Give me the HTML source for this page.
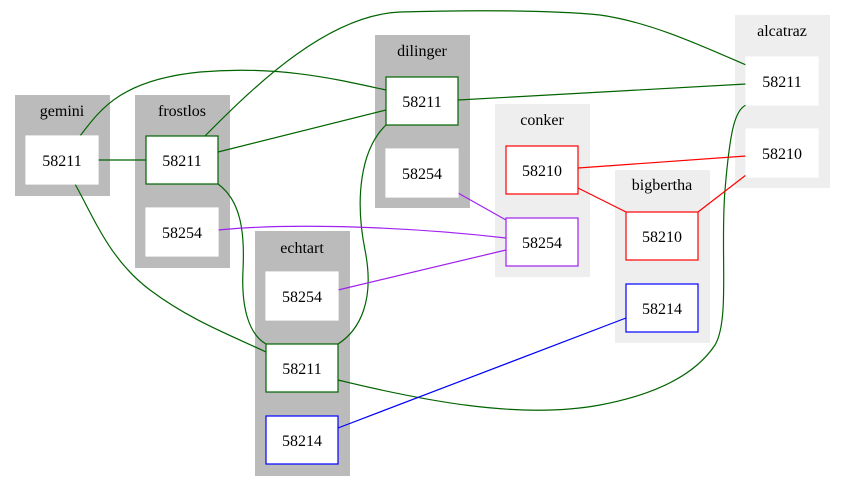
<!DOCTYPE html>
<html><head><meta charset="utf-8"><style>
html,body{margin:0;padding:0;background:#fff}
svg{display:block}
text{font-family:"Liberation Serif",serif;font-size:16px;text-anchor:middle;fill:#000}
</style></head><body>
<svg width="845" height="492" viewBox="0 0 845 492" xmlns="http://www.w3.org/2000/svg">
<g>
<rect x="15" y="95" width="95" height="101" fill="#bbb"/>
<rect x="135" y="95" width="95" height="173" fill="#bbb"/>
<rect x="375" y="35" width="95" height="173" fill="#bbb"/>
<rect x="255" y="231" width="95" height="245" fill="#bbb"/>
<rect x="495" y="104" width="95" height="173" fill="#eee"/>
<rect x="615" y="170" width="95" height="173" fill="#eee"/>
<rect x="735" y="15" width="95" height="173" fill="#eee"/>
<text x="62" y="116">gemini</text>
<text x="182" y="116">frostlos</text>
<text x="422" y="56">dilinger</text>
<text x="302" y="253">echtart</text>
<text x="542" y="125">conker</text>
<text x="662" y="190">bigbertha</text>
<text x="782" y="36">alcatraz</text>
</g>
<g fill="none" stroke-width="1.2">
<path d="M98,160 L146,160" stroke="#006400"/>
<path d="M80,136 C100,110 120,80 200,72 C280,65 340,80 386,90" stroke="#006400"/>
<path d="M75,184 C95,220 110,260 150,290 C190,320 230,335 266,352" stroke="#006400"/>
<path d="M218,152 L386,110" stroke="#006400"/>
<path d="M205,136 C260,80 330,15 400,12 C470,10 550,10 600,15 C650,22 700,45 746,65" stroke="#006400"/>
<path d="M218,184 C240,200 245,230 243,270 C241,310 250,335 266,344" stroke="#006400"/>
<path d="M458,100 L746,84" stroke="#006400"/>
<path d="M386,125 C360,150 355,200 365,250 C375,300 360,330 338,344" stroke="#006400"/>
<path d="M338,380 C420,400 520,420 600,405 C680,390 705,360 715,345 C730,320 720,250 725,190 C730,130 735,110 746,105" stroke="#006400"/>
<path d="M578,168 L746,156" stroke="#f00"/>
<path d="M578,188 L626,212" stroke="#f00"/>
<path d="M698,212 L746,175" stroke="#f00"/>
<path d="M218,230 C300,222 420,228 506,238" stroke="#a020f0"/>
<path d="M458,193 L506,220" stroke="#a020f0"/>
<path d="M338,290 L506,250" stroke="#a020f0"/>
<path d="M338,428 L626,318" stroke="#00f"/>
</g>
<g stroke-width="1.2">
<rect x="26" y="136" width="72" height="48" fill="#fff" stroke="#fff"/>
<rect x="146" y="136" width="72" height="48" fill="#fff" stroke="#006400"/>
<rect x="146" y="208" width="72" height="48" fill="#fff" stroke="#fff"/>
<rect x="386" y="77" width="72" height="48" fill="#fff" stroke="#006400"/>
<rect x="386" y="149" width="72" height="48" fill="#fff" stroke="#fff"/>
<rect x="266" y="272" width="72" height="48" fill="#fff" stroke="#fff"/>
<rect x="266" y="344" width="72" height="48" fill="#fff" stroke="#006400"/>
<rect x="266" y="416" width="72" height="48" fill="#fff" stroke="#00f"/>
<rect x="506" y="146" width="72" height="48" fill="#fff" stroke="#f00"/>
<rect x="506" y="218" width="72" height="48" fill="#fff" stroke="#a020f0"/>
<rect x="626" y="212" width="72" height="48" fill="#fff" stroke="#f00"/>
<rect x="626" y="284" width="72" height="48" fill="#fff" stroke="#00f"/>
<rect x="746" y="57" width="72" height="48" fill="#fff" stroke="#fff"/>
<rect x="746" y="129" width="72" height="48" fill="#fff" stroke="#fff"/>
</g>
<g>
<text x="62" y="166">58211</text>
<text x="182" y="166">58211</text>
<text x="182" y="238">58254</text>
<text x="422" y="107">58211</text>
<text x="422" y="179">58254</text>
<text x="302" y="302">58254</text>
<text x="302" y="374">58211</text>
<text x="302" y="446">58214</text>
<text x="542" y="176">58210</text>
<text x="542" y="248">58254</text>
<text x="662" y="242">58210</text>
<text x="662" y="314">58214</text>
<text x="782" y="87">58211</text>
<text x="782" y="159">58210</text>
</g>
</svg>
</body></html>
